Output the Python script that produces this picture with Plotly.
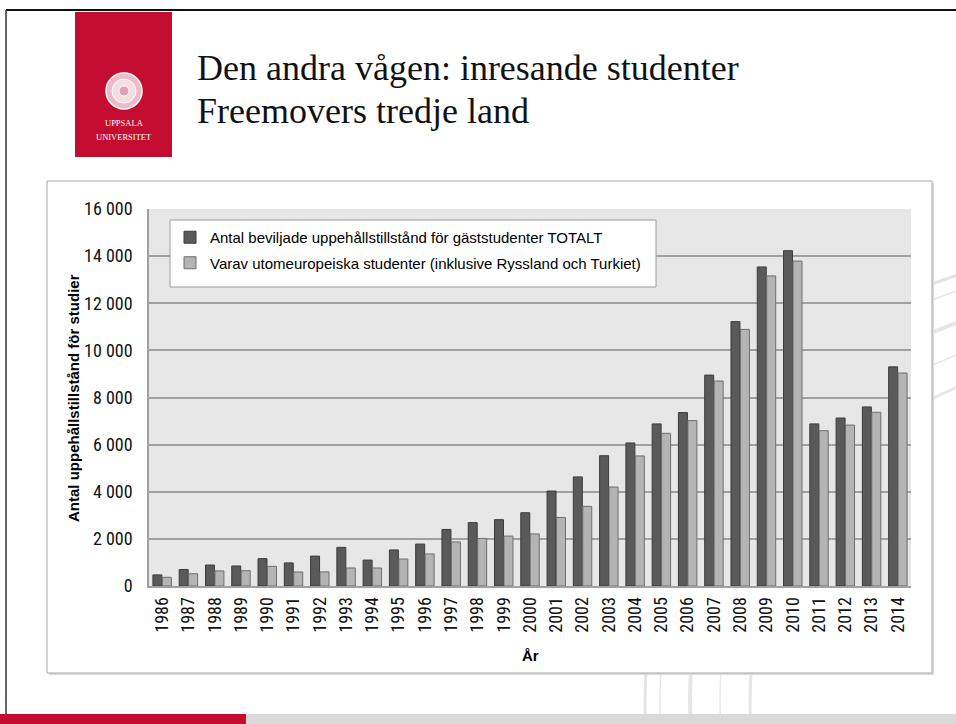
import plotly.graph_objects as go

W, H = 956, 724

years = [str(y) for y in range(1986, 2015)]
totalt = [470, 700, 890, 850, 1160, 980, 1270, 1640, 1100, 1530, 1780, 2400, 2690, 2815,
          3110, 4030, 4630, 5530, 6070, 6880, 7360, 8950, 11220, 13540, 14230, 6880, 7130, 7600, 9300]
utomeuropeiska = [370, 520, 640, 650, 835, 595, 600, 765, 765, 1145, 1360, 1870, 2020, 2120,
                  2210, 2910, 3380, 4200, 5520, 6480, 7020, 8700, 10890, 13160, 13790, 6590, 6830, 7370, 9040]
y_ticks = [0, 2000, 4000, 6000, 8000, 10000, 12000, 14000, 16000]
y_ticktext = ["0", "2 000", "4 000", "6 000", "8 000", "10 000", "12 000", "14 000", "16 000"]

name_tot = "Antal beviljade uppehållstillstånd för gäststudenter TOTALT"
name_ut = "Varav utomeuropeiska studenter (inklusive Ryssland och Turkiet)"
title1 = "Den andra vågen: inresande studenter"
title2 = "Freemovers tredje land"
ytitle = "Antal uppehållstillstånd för studier"
xtitle = "År"
logo1 = "UPPSALA"
logo2 = "UNIVERSITET"

NARROW = "Roboto Condensed, Archivo Narrow, Liberation Sans, Arial, sans-serif"
SANS = "Liberation Sans, Arial, sans-serif"
SERIF = "Liberation Serif, Times New Roman, serif"
RED = "#c40c31"


def px(x):
    return x / W


def py(y):
    return 1 - y / H


def rect(x0, y0, x1, y1, fill, line_color=None, lw=0, layer="below"):
    return dict(type="rect", xref="paper", yref="paper", layer=layer,
                x0=px(x0), x1=px(x1), y0=py(y1), y1=py(y0),
                line=dict(color=line_color or "rgba(0,0,0,0)", width=lw), fillcolor=fill)


def circ(cx, cy, r, fill, line_color, lw, layer="below"):
    return dict(type="circle", xref="paper", yref="paper", layer=layer,
                x0=px(cx - r), x1=px(cx + r), y0=py(cy + r), y1=py(cy - r),
                line=dict(color=line_color, width=lw), fillcolor=fill)


fig = go.Figure()
fig.add_trace(go.Bar(x=years, y=totalt, name=name_tot, legendgroup="a",
                     marker=dict(color="#5a5a5a", line=dict(color="#3c3c3c", width=1))))
fig.add_trace(go.Bar(x=years, y=utomeuropeiska, name=name_ut, legendgroup="b",
                     marker=dict(color="#b4b4b4", line=dict(color="#6e6e6e", width=1))))

shapes = []
# faint watermark seal (right / bottom)
for r, wdt, col in [(445, 3, "#e4e4e4"), (430, 1.5, "#e8e8e8"), (400, 4, "#e6e6e6"),
                    (370, 1.5, "#e9e9e9"), (340, 3, "#e6e6e6")]:
    shapes.append(circ(1090, 700, r, "rgba(0,0,0,0)", col, wdt))
# chart box with light shadow
shapes.append(rect(49, 183, 934, 675, "#dcdcdc"))
shapes.append(rect(47, 181, 932, 673, "white", "#a8a8a8", 1))
# plot area background
shapes.append(rect(149, 209, 911, 586, "#e7e7e7"))
# legend frame (above gridlines)
shapes.append(rect(170, 220, 656, 287, "white", "#9a9a9a", 1, layer="above"))
# slide frame lines
shapes.append(dict(type="line", xref="paper", yref="paper", layer="below",
                   x0=px(6), x1=1, y0=py(10), y1=py(10), line=dict(color="#111111", width=2)))
shapes.append(dict(type="line", xref="paper", yref="paper", layer="below",
                   x0=px(6), x1=px(6), y0=py(10), y1=py(714), line=dict(color="#333333", width=1.5)))
# bottom bars
shapes.append(rect(0, 714, 246, 724, RED))
shapes.append(rect(246, 714, 956, 724, "#d9d9d9"))
# logo
shapes.append(rect(75, 12, 172, 157, RED))
shapes.append(circ(124, 91, 18, "#ecbcc6", "white", 1.5))
shapes.append(circ(124, 91, 12, "#f5dde2", "white", 1))
shapes.append(circ(124, 91, 5, "#e4a0b0", "white", 1))

annotations = [
    dict(text=title1, x=px(195), y=py(68), xref="paper", yref="paper", xanchor="left", yanchor="middle",
         showarrow=False, font=dict(family=SERIF, size=36, color="#111111")),
    dict(text=title2, x=px(195), y=py(111), xref="paper", yref="paper", xanchor="left", yanchor="middle",
         showarrow=False, font=dict(family=SERIF, size=36, color="#111111")),
    dict(text=logo1, x=px(124), y=py(123), xref="paper", yref="paper", xanchor="center", yanchor="middle",
         showarrow=False, font=dict(family=SERIF, size=8.5, color="white")),
    dict(text=logo2, x=px(124), y=py(137), xref="paper", yref="paper", xanchor="center", yanchor="middle",
         showarrow=False, font=dict(family=SERIF, size=8.5, color="white")),
    dict(text="<b>" + ytitle + "</b>", x=px(73), y=py(398), xref="paper", yref="paper", textangle=-90,
         xanchor="center", yanchor="middle", showarrow=False, font=dict(family=SANS, size=15, color="black")),
    dict(text="<b>" + xtitle + "</b>", x=px(530), y=py(655), xref="paper", yref="paper",
         xanchor="center", yanchor="middle", showarrow=False, font=dict(family=SANS, size=15, color="black")),
]

fig.update_layout(
    width=W, height=H, margin=dict(l=0, r=0, t=0, b=0, autoexpand=False),
    paper_bgcolor="white", plot_bgcolor="rgba(0,0,0,0)",
    barmode="group", bargap=0.28, bargroupgap=0.05,
    shapes=shapes, annotations=annotations,
    showlegend=True,
    legend=dict(x=px(170), y=py(221), xanchor="left", yanchor="top",
                bgcolor="rgba(0,0,0,0)", borderwidth=0, traceorder="grouped", tracegroupgap=3,
                font=dict(family=SANS, size=15, color="black")),
    xaxis=dict(domain=[px(149), px(911)], type="category", tickangle=-90, automargin=False,
               tickfont=dict(family=NARROW, size=18, color="#111111"),
               showline=True, linecolor="#a0a0a0", linewidth=2, showgrid=False,
               ticks="", ticklabelstandoff=2, fixedrange=True),
    yaxis=dict(domain=[py(586), py(209)], range=[0, 16000], tickvals=y_ticks, ticktext=y_ticktext,
               automargin=False,
               tickfont=dict(family=NARROW, size=18, color="#111111"),
               showline=True, linecolor="#a0a0a0", linewidth=1.5,
               showgrid=True, gridcolor="#a0a0a0", gridwidth=1.5, zeroline=False,
               ticks="", ticklabelstandoff=11, fixedrange=True),
)

fig.write_html("out.html", config={"displayModeBar": False},
               post_script="document.body.style.margin='0px';document.body.style.overflow='hidden';")
